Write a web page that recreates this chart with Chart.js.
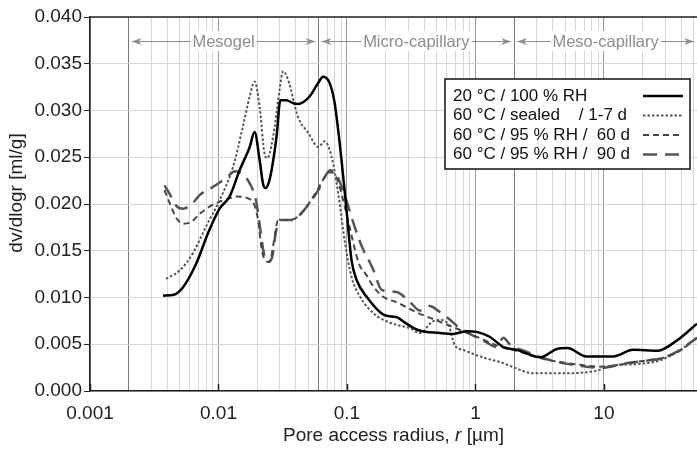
<!DOCTYPE html>
<html>
<head>
<meta charset="utf-8">
<script src="https://cdn.jsdelivr.net/npm/chart.js@4.4.0/dist/chart.umd.min.js"></script>
<style>
  body { margin: 0; background: #fff; }
  #wrap { width: 697px; height: 450px; }
</style>
</head>
<body>
<div id="wrap"><canvas id="chart" width="697" height="450"></canvas></div>
<script>
// pore access radius [µm] and dv/dlogr [ml/g]
const r20 = [0.0037,0.0045,0.0053,0.0067,0.0083,0.0102,0.0122,0.0146,0.0175,0.0191,0.0209,0.0222,0.0232,0.0245,0.0258,0.0283,0.0303,0.0337,0.038,0.0416,0.0512,0.06,0.0652,0.0734,0.0802,0.0907,0.0991,0.1085,0.1187,0.1418,0.197,0.243,0.29,0.36,0.53,0.67,0.86,1.04,1.29,1.65,2.1,3.2,4.3,5.2,7.3,11.8,16.9,26,37,53];
const v20 = [0.0102,0.0103,0.0111,0.0136,0.0169,0.0195,0.0208,0.0236,0.0261,0.0277,0.0247,0.0222,0.0217,0.0222,0.0235,0.0272,0.0311,0.0311,0.0308,0.0307,0.0315,0.0330,0.0336,0.0329,0.0308,0.0247,0.0194,0.0140,0.0119,0.0101,0.0081,0.0079,0.0072,0.0065,0.0062,0.0061,0.0064,0.0063,0.0058,0.0047,0.0044,0.0036,0.0045,0.0046,0.0037,0.0037,0.0044,0.0043,0.0054,0.0072];

const rSealed = [0.0039,0.005,0.0063,0.008,0.0102,0.013,0.0155,0.0175,0.0191,0.0209,0.0228,0.024,0.0258,0.0274,0.0299,0.0318,0.0348,0.0416,0.05,0.0599,0.0671,0.0758,0.0856,0.0966,0.1085,0.1262,0.1612,0.2165,0.31,0.37,0.46,0.53,0.62,0.69,0.8,1.2,1.55,2.1,2.8,5.2,8.9,11.3,19,27.7,39.4,53];
const vSealed = [0.0120,0.0129,0.0147,0.0176,0.0204,0.0240,0.0283,0.0315,0.0331,0.0304,0.0254,0.0249,0.0262,0.0283,0.0322,0.0342,0.0333,0.0293,0.0276,0.0261,0.0267,0.0251,0.0211,0.0158,0.0122,0.0101,0.0083,0.0073,0.0067,0.0062,0.0074,0.0076,0.0070,0.0049,0.0044,0.0035,0.0031,0.0024,0.0019,0.0019,0.0022,0.0027,0.0029,0.0033,0.0044,0.0057];

const r60 = [0.0038,0.0042,0.0047,0.0053,0.006,0.0072,0.009,0.011,0.014,0.017,0.019,0.0205,0.0215,0.023,0.025,0.027,0.029,0.035,0.04,0.046,0.053,0.06,0.068,0.074,0.08,0.087,0.095,0.105,0.115,0.125,0.14,0.16,0.19,0.243,0.35,0.53,0.8,1.15,1.45,2.2,3,4.5,6.5,9,12,16,22,30,40,53];
const v60 = [0.0215,0.0200,0.0185,0.0179,0.0180,0.0190,0.0199,0.0204,0.0208,0.0206,0.0199,0.0180,0.0155,0.0140,0.0138,0.0160,0.0182,0.0183,0.0185,0.0193,0.0205,0.0217,0.0230,0.0234,0.0232,0.0220,0.0200,0.0175,0.0152,0.0135,0.0125,0.0112,0.0101,0.0095,0.0084,0.0074,0.0064,0.0055,0.0049,0.0042,0.0036,0.0031,0.0028,0.0026,0.0027,0.0030,0.0033,0.0036,0.0044,0.0057];

const r90 = [0.0038,0.0042,0.0047,0.0053,0.0062,0.0072,0.009,0.0115,0.0135,0.015,0.0175,0.0195,0.021,0.0225,0.024,0.026,0.028,0.03,0.038,0.046,0.053,0.06,0.068,0.074,0.082,0.09,0.1,0.112,0.122,0.134,0.15,0.161,0.187,0.243,0.31,0.37,0.44,0.51,0.61,0.76,0.97,1.22,1.45,1.65,1.85,2.5,3.6,5.2,7.3,10,14,20,28,38,53];
const v90 = [0.0220,0.0210,0.0198,0.0195,0.0200,0.0210,0.0218,0.0228,0.0235,0.0233,0.0222,0.0205,0.0176,0.0148,0.0138,0.0142,0.0170,0.0183,0.0183,0.0193,0.0204,0.0215,0.0230,0.0236,0.0232,0.0220,0.0202,0.0180,0.0165,0.0151,0.0138,0.0129,0.0108,0.0106,0.0095,0.0086,0.0091,0.0086,0.0078,0.0067,0.0059,0.0052,0.0047,0.0057,0.0050,0.0042,0.0034,0.0029,0.0026,0.0025,0.0029,0.0032,0.0035,0.0043,0.0057];

const seriesNames = ['20 °C / 100 % RH', '60 °C / sealed    / 1-7 d', '60 °C / 95 % RH /  60 d', '60 °C / 95 % RH /  90 d'];
const regionBounds = [0.002, 0.06, 2, 53];
const regionNames = ['Mesogel', 'Micro-capillary', 'Meso-capillary'];
const decades = [0.001, 0.01, 0.1, 1, 10];

const FONT = '"Liberation Sans", Arial, sans-serif';
Chart.defaults.font.family = FONT;
Chart.defaults.font.size = 19;
Chart.defaults.color = '#222';

function pts(xs, ys) {
  return xs.map((x, i) => ({ x: x, y: ys[i] }));
}

// every 1..9 x 10^k gridline
const xTicks = [];
for (let k = -3; k <= 1; k++) {
  for (let n = 1; n <= 9; n++) {
    const v = parseFloat((n * Math.pow(10, k)).toPrecision(6));
    if (v <= 53) xTicks.push(v);
  }
}
const isDecade = v => decades.some(d => Math.abs(d - v) < d * 1e-6);
const isBound = v => regionBounds.slice(0, 3).some(d => Math.abs(d - v) < d * 1e-6);

const overlay = {
  id: 'overlay',
  afterDraw(chart) {
    const ctx = chart.ctx;
    const a = chart.chartArea;
    const xs = chart.scales.x;
    ctx.save();

    // top frame line
    ctx.strokeStyle = '#222';
    ctx.lineWidth = 1.5;
    ctx.beginPath();
    ctx.moveTo(a.left, a.top);
    ctx.lineTo(a.right, a.top);
    ctx.stroke();

    // inner ticks at decades
    decades.forEach(d => {
      const x = Math.round(xs.getPixelForValue(d)) + 0.5;
      ctx.beginPath();
      ctx.moveTo(x, a.bottom);
      ctx.lineTo(x, a.bottom - 7);
      ctx.stroke();
    });

    // region arrows
    const y = 41;
    ctx.font = '16.5px ' + FONT;
    ctx.textBaseline = 'middle';
    ctx.textAlign = 'center';
    regionNames.forEach((name, i) => {
      const x1 = xs.getPixelForValue(regionBounds[i]) + 3;
      const x2 = Math.min(xs.getPixelForValue(regionBounds[i + 1]), a.right) - 3;
      const cx = (x1 + x2) / 2;
      const w = ctx.measureText(name).width;
      ctx.fillStyle = '#fff';
      ctx.fillRect(cx - w / 2 - 2, y - 10, w + 4, 20);
      ctx.strokeStyle = '#8c8c8c';
      ctx.fillStyle = '#8c8c8c';
      ctx.lineWidth = 1;
      ctx.beginPath();
      ctx.moveTo(x1, y + 0.5); ctx.lineTo(cx - w / 2 - 2, y + 0.5);
      ctx.moveTo(cx + w / 2 + 2, y + 0.5); ctx.lineTo(x2, y + 0.5);
      ctx.stroke();
      ctx.beginPath();
      ctx.moveTo(x1, y + 0.5); ctx.lineTo(x1 + 10, y - 3); ctx.lineTo(x1 + 7, y + 0.5); ctx.lineTo(x1 + 10, y + 4);
      ctx.closePath(); ctx.fill();
      ctx.beginPath();
      ctx.moveTo(x2, y + 0.5); ctx.lineTo(x2 - 10, y - 3); ctx.lineTo(x2 - 7, y + 0.5); ctx.lineTo(x2 - 10, y + 4);
      ctx.closePath(); ctx.fill();
      ctx.fillText(name, cx, y + 1);
    });

    // legend box
    const lx = 445, ly = 79, lw = 245, lh = 90;
    ctx.fillStyle = '#fff';
    ctx.fillRect(lx, ly, lw, lh);
    ctx.strokeStyle = '#111';
    ctx.lineWidth = 1.5;
    ctx.strokeRect(lx, ly, lw, lh);
    ctx.textAlign = 'left';
    ctx.font = '17px ' + FONT;
    chart.data.datasets.forEach((ds, i) => {
      const ty = ly + 17 + i * 19.5;
      ctx.fillStyle = '#111';
      ctx.fillText(seriesNames[i], lx + 8, ty);
      ctx.strokeStyle = ds.borderColor;
      ctx.lineWidth = ds.borderWidth;
      ctx.setLineDash(ds.borderDash || []);
      ctx.beginPath();
      ctx.moveTo(lx + 198, ty);
      ctx.lineTo(lx + 238, ty);
      ctx.stroke();
      ctx.setLineDash([]);
    });

    // axis titles
    ctx.fillStyle = '#222';
    ctx.font = '19px ' + FONT;
    ctx.textAlign = 'center';
    ctx.save();
    ctx.translate(17, 193);
    ctx.rotate(-Math.PI / 2);
    ctx.fillText('dv/dlogr [ml/g]', 0, 0);
    ctx.restore();

    const p1 = 'Pore access radius, ', p2 = 'r', p3 = ' [µm]';
    const ty = 436;
    ctx.font = '19px ' + FONT;
    const w1 = ctx.measureText(p1).width, w3 = ctx.measureText(p3).width;
    ctx.font = 'italic 19px ' + FONT;
    const w2 = ctx.measureText(p2).width;
    const tx = (a.left + a.right) / 2 - (w1 + w2 + w3) / 2;
    ctx.textAlign = 'left';
    ctx.font = '19px ' + FONT;
    ctx.fillText(p1, tx, ty);
    ctx.font = 'italic 19px ' + FONT;
    ctx.fillText(p2, tx + w1, ty);
    ctx.font = '19px ' + FONT;
    ctx.fillText(p3, tx + w1 + w2, ty);
    ctx.restore();
  }
};

new Chart(document.getElementById('chart'), {
  type: 'line',
  data: {
    datasets: [
      { data: pts(r20, v20), borderColor: '#000', borderWidth: 2.5 },
      { data: pts(rSealed, vSealed), borderColor: '#555', borderWidth: 2, borderDash: [2.5, 2] },
      { data: pts(r60, v60), borderColor: '#484848', borderWidth: 2, borderDash: [6, 4] },
      { data: pts(r90, v90), borderColor: '#555', borderWidth: 2.5, borderDash: [14, 8] }
    ]
  },
  options: {
    responsive: false,
    animation: false,
    devicePixelRatio: 1,
    layout: { padding: { top: 17, right: 0, left: 0, bottom: 0 } },
    elements: {
      point: { radius: 0 },
      line: { cubicInterpolationMode: 'monotone', fill: false }
    },
    plugins: { legend: { display: false }, tooltip: { enabled: false } },
    scales: {
      x: {
        type: 'logarithmic',
        min: 0.001,
        max: 53,
        afterBuildTicks: scale => { scale.ticks = xTicks.map(v => ({ value: v })); },
        afterFit: scale => {
          scale.height = 59;
          scale.paddingLeft = 0;
          scale.paddingRight = 0;
        },
        ticks: {
          autoSkip: false,
          maxRotation: 0,
          padding: 11,
          color: '#222',
          callback: v => isDecade(v) ? String(v) : ''
        },
        grid: {
          drawTicks: false,
          color: c => isBound(c.tick.value) ? '#7a7a7a' : (isDecade(c.tick.value) ? '#9a9a9a' : '#d6d6d6'),
          lineWidth: 1
        },
        border: { color: '#222', width: 1.5 }
      },
      y: {
        min: 0,
        max: 0.04,
        afterFit: scale => { scale.width = 90; },
        ticks: {
          stepSize: 0.005,
          padding: 2,
          color: '#222',
          callback: v => v.toFixed(3)
        },
        grid: { color: '#d6d6d6', lineWidth: 1, tickLength: 6, tickColor: '#222' },
        border: { color: '#222', width: 1.5 }
      }
    }
  },
  plugins: [overlay]
});
</script>
</body>
</html>
